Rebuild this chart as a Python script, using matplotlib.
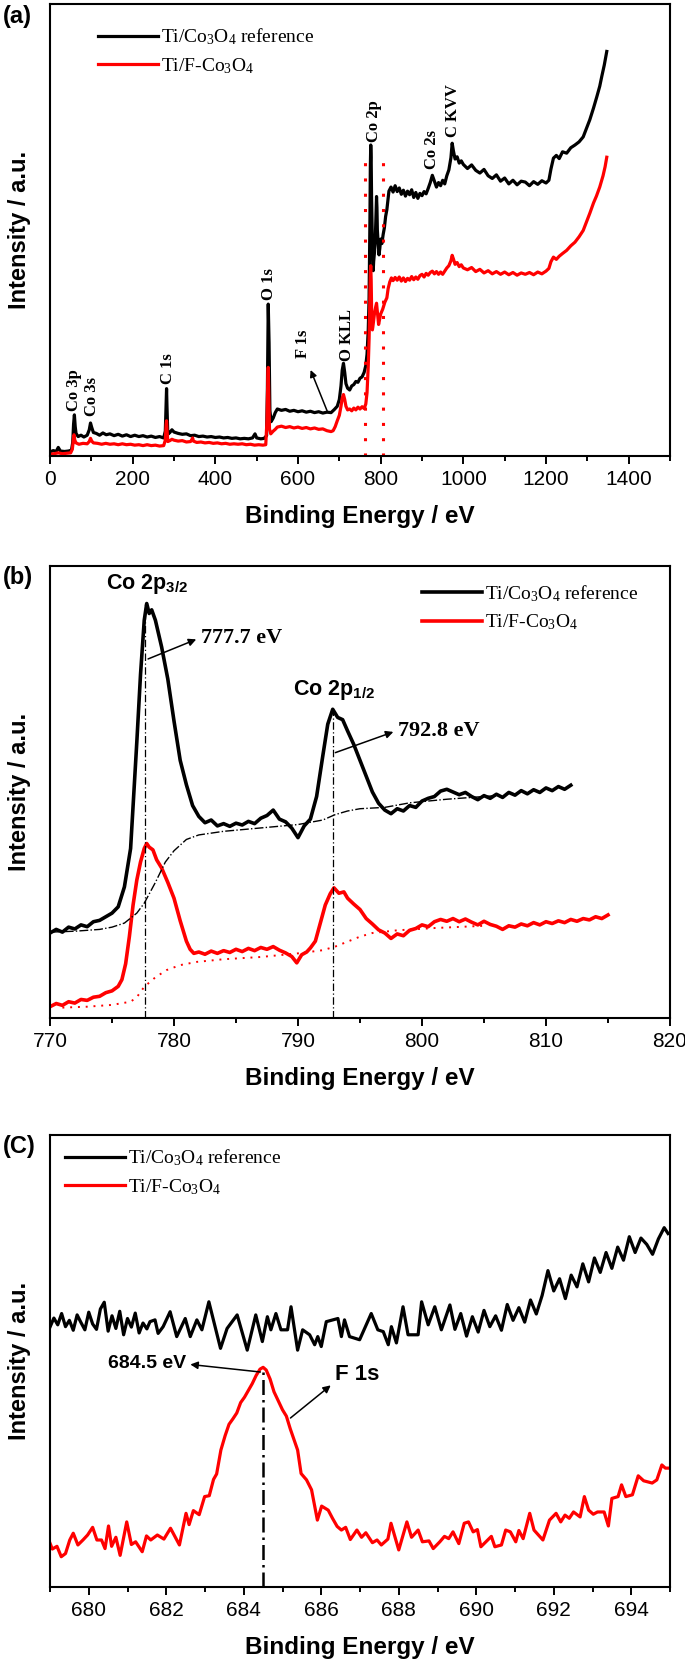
import matplotlib
matplotlib.use('Agg')
import matplotlib.pyplot as plt
from matplotlib.ticker import MultipleLocator

plt.rcParams['font.family'] = ['Liberation Sans', 'DejaVu Sans']

# ---------------- (a) survey spectra: (binding energy, intensity %) ----------------
a_ref = [(0, 0.9), (8, 1.2), (15, 1.0), (20, 1.9), (25, 1.1), (35, 1.0), (45, 1.1), (52, 1.3),
         (55, 3.0), (57, 7.0), (59, 9.1), (61, 6.5), (63, 5.0), (68, 4.3), (75, 4.6), (82, 4.2),
         (90, 4.6), (95, 5.8), (98, 7.3), (101, 6.3), (105, 5.2), (112, 5.0), (120, 4.6), (128, 5.1),
         (136, 4.7), (145, 4.9), (155, 4.5), (165, 4.8), (175, 4.4), (185, 4.7), (195, 4.3), (205, 4.6),
         (215, 4.3), (225, 4.5), (235, 4.2), (245, 4.4), (255, 4.1), (265, 4.3), (275, 4.0), (279, 5.5),
         (281, 12.0), (282, 14.9), (283, 11.0), (285, 4.8), (290, 5.2), (295, 5.8), (300, 5.3),
         (310, 5.0), (320, 4.8), (330, 4.9), (340, 4.5), (350, 4.6), (360, 4.3), (370, 4.4), (380, 4.2),
         (390, 4.3), (400, 4.1), (410, 4.2), (420, 4.0), (430, 4.1), (440, 3.9), (450, 4.0), (460, 3.8),
         (470, 3.9), (480, 3.8), (490, 4.0), (496, 4.9), (500, 4.0), (510, 3.8), (518, 3.9), (524, 4.5),
         (526, 15.0), (528, 33.6), (530, 25.0), (532, 10.0), (535, 7.6), (540, 8.4), (545, 9.6),
         (550, 10.4), (560, 10.1), (570, 10.3), (580, 9.9), (590, 10.1), (600, 9.8), (610, 10.0),
         (620, 9.7), (630, 9.9), (640, 9.6), (650, 9.8), (660, 9.5), (670, 9.7), (680, 9.6), (688, 10.3),
         (695, 11.0), (700, 12.5), (704, 15.5), (707, 19.0), (710, 20.5), (713, 18.5), (716, 16.0),
         (720, 15.0), (725, 14.6), (730, 15.5), (735, 15.8), (740, 16.5), (745, 16.3), (750, 17.2),
         (755, 17.5), (760, 18.5), (764, 20.0), (767, 22.5), (770, 28.0), (772, 35.0), (774, 52.0),
         (775, 64.0), (776, 68.8), (777, 66.0), (778, 57.0), (779, 52.0), (780, 46.0), (781, 42.0),
         (782, 41.0), (783, 43.0), (785, 45.0), (787, 48.0), (789, 54.0), (790, 57.4), (791, 55.0),
         (792, 50.0), (794, 47.0), (796, 44.5), (798, 46.0), (800, 48.0), (803, 47.0), (806, 49.0),
         (809, 50.5), (812, 53.0), (815, 54.5), (818, 57.0), (820, 58.6), (825, 59.5), (830, 58.4),
         (835, 59.8), (840, 58.5), (845, 59.3), (850, 57.9), (855, 58.8), (860, 57.5), (865, 58.6),
         (870, 57.8), (875, 58.9), (880, 57.2), (885, 58.3), (890, 57.0), (895, 58.1), (900, 57.6),
         (905, 58.5), (910, 58.0), (915, 59.2), (920, 60.5), (925, 62.1), (930, 60.8), (935, 59.5),
         (940, 60.5), (945, 59.8), (950, 61.0), (955, 60.2), (960, 62.0), (965, 63.3), (970, 66.0),
         (973, 69.2), (976, 67.5), (980, 65.7), (985, 66.2), (990, 64.8), (995, 65.3), (1000, 64.5),
         (1010, 63.6), (1020, 64.4), (1030, 63.2), (1040, 62.6), (1050, 63.4), (1060, 62.0),
         (1070, 61.4), (1080, 62.2), (1090, 60.8), (1100, 61.5), (1110, 60.2), (1120, 61.0),
         (1130, 60.0), (1140, 60.8), (1150, 60.6), (1160, 59.8), (1170, 60.7), (1180, 60.1),
         (1190, 60.9), (1200, 60.4), (1207, 61.0), (1212, 63.5), (1218, 65.9), (1225, 66.5),
         (1232, 65.8), (1240, 67.3), (1250, 67.0), (1260, 68.2), (1270, 68.8), (1280, 69.5),
         (1290, 70.6), (1298, 72.5), (1306, 74.4), (1315, 77.0), (1323, 79.5), (1330, 81.8),
         (1335, 84.0), (1341, 86.5), (1347, 89.5)]

a_fco = [(0, 0.4), (10, 0.5), (20, 0.7), (30, 0.5), (40, 0.6), (50, 0.7), (54, 1.5), (56, 3.2),
         (58, 4.7), (60, 3.5), (63, 2.9), (70, 2.6), (80, 2.8), (90, 2.7), (95, 3.2), (98, 3.9),
         (101, 3.3), (105, 2.9), (115, 2.8), (125, 2.6), (135, 2.8), (145, 2.6), (155, 2.7), (165, 2.5),
         (175, 2.7), (185, 2.5), (195, 2.6), (205, 2.4), (215, 2.5), (225, 2.3), (235, 2.5), (245, 2.3),
         (255, 2.4), (265, 2.2), (275, 2.3), (279, 3.5), (281, 7.0), (282, 7.8), (283, 6.0), (285, 3.2),
         (290, 3.4), (295, 3.7), (300, 3.5), (310, 3.3), (320, 3.4), (330, 3.1), (340, 3.2), (343, 3.6),
         (345, 4.0), (347, 3.3), (355, 3.0), (365, 3.1), (375, 2.9), (385, 3.0), (395, 2.8), (405, 2.9),
         (415, 2.7), (425, 2.8), (435, 2.6), (445, 2.7), (455, 2.6), (465, 2.7), (475, 2.5), (485, 2.6),
         (495, 2.4), (505, 2.5), (515, 2.4), (522, 2.5), (525, 8.0), (527, 17.0), (528, 19.6),
         (529, 15.0), (531, 6.0), (534, 4.9), (540, 5.5), (545, 5.9), (550, 6.4), (560, 6.6), (570, 6.3),
         (580, 6.5), (590, 6.2), (600, 6.4), (610, 6.1), (620, 6.3), (630, 6.0), (640, 6.2), (650, 5.9),
         (660, 6.0), (670, 5.6), (680, 5.4), (685, 5.6), (690, 6.5), (695, 7.8), (700, 9.0), (704, 11.0),
         (707, 12.8), (710, 13.6), (713, 12.5), (716, 11.0), (720, 10.2), (725, 10.4), (730, 10.0),
         (735, 10.6), (740, 10.2), (745, 10.8), (750, 10.4), (755, 10.9), (760, 10.5), (764, 11.5),
         (767, 14.0), (770, 20.0), (772, 26.0), (774, 36.0), (775, 40.5), (776, 42.1), (777, 39.0),
         (778, 33.0), (779, 29.5), (780, 27.9), (781, 28.5), (783, 30.0), (785, 31.5), (788, 33.0),
         (790, 33.8), (792, 32.0), (794, 30.0), (795, 29.1), (797, 30.0), (800, 31.4), (805, 32.5),
         (810, 34.0), (815, 35.0), (818, 37.0), (822, 38.5), (826, 39.4), (830, 38.8), (835, 39.5),
         (840, 38.9), (845, 39.6), (850, 38.7), (855, 39.4), (860, 38.6), (865, 39.3), (870, 38.9),
         (875, 39.7), (880, 39.0), (885, 39.6), (890, 39.1), (895, 39.9), (900, 40.2), (905, 39.6),
         (910, 40.4), (915, 40.0), (920, 40.6), (925, 40.9), (930, 40.3), (935, 40.8), (940, 40.2),
         (945, 40.7), (950, 40.2), (955, 40.9), (960, 41.6), (965, 42.1), (970, 43.2), (973, 44.4),
         (976, 43.6), (980, 42.4), (985, 42.8), (990, 41.9), (995, 42.3), (1000, 41.6), (1010, 41.2),
         (1020, 41.7), (1030, 40.8), (1040, 41.3), (1050, 40.5), (1060, 41.0), (1070, 40.3),
         (1080, 40.8), (1090, 40.2), (1100, 40.7), (1110, 40.1), (1120, 40.6), (1130, 40.0),
         (1140, 40.5), (1150, 40.2), (1160, 40.6), (1170, 40.1), (1180, 40.7), (1190, 40.3),
         (1200, 40.9), (1207, 41.5), (1212, 43.0), (1218, 44.0), (1225, 43.5), (1232, 44.2),
         (1240, 44.8), (1250, 45.5), (1260, 46.5), (1270, 47.3), (1280, 48.5), (1290, 49.9),
         (1298, 51.8), (1306, 53.7), (1315, 56.0), (1322, 57.5), (1330, 59.5), (1338, 62.0),
         (1343, 64.0), (1347, 66.1)]

# peak labels in (a): text, energy, height of text foot
a_labels = [('Co 3p', 58, 10.0), ('Co 3s', 101, 8.8), ('C 1s', 285, 16.0), ('O 1s', 531, 34.5),
            ('F 1s', 613, 21.6), ('O KLL', 718, 21.0), ('Co 2p', 784, 69.5), ('Co 2s', 925, 63.5),
            ('C KVV', 976, 70.5)]
a_box = (762, 806, 67.0)  # dotted marker around Co 2p

# ---------------- (b) Co 2p region ----------------
b_ref = [(770.0, 18.8), (770.5, 19.6), (771.0, 19.0), (771.5, 20.1), (772.0, 19.7), (772.5, 20.6),
         (773.0, 20.2), (773.5, 21.3), (774.0, 21.6), (774.5, 22.4), (775.0, 23.2), (775.5, 24.6),
         (776.0, 29.0), (776.5, 37.5), (777.0, 61.0), (777.3, 76.0), (777.6, 88.0), (777.8, 91.7),
         (778.0, 89.5), (778.2, 90.3), (778.5, 88.0), (779.0, 82.1), (779.5, 75.0), (780.0, 65.7),
         (780.5, 57.0), (781.0, 51.6), (781.5, 47.0), (782.0, 44.6), (782.5, 43.2), (783.0, 43.8),
         (783.5, 42.5), (784.0, 43.0), (784.5, 42.4), (785.0, 43.1), (785.5, 42.7), (786.0, 43.5),
         (786.5, 43.0), (787.0, 44.2), (787.5, 44.8), (788.0, 46.0), (788.5, 44.0), (789.0, 43.4),
         (789.5, 42.0), (790.0, 39.9), (790.5, 42.5), (791.0, 44.0), (791.5, 49.0), (792.0, 58.0),
         (792.4, 65.0), (792.8, 68.3), (793.2, 66.5), (793.6, 66.0), (794.0, 63.5), (794.5, 60.5),
         (795.0, 57.0), (795.5, 53.5), (796.0, 50.0), (796.5, 47.5), (797.0, 46.0), (797.5, 45.2),
         (798.0, 46.3), (798.5, 45.8), (799.0, 47.0), (799.5, 46.6), (800.0, 48.0), (800.5, 48.6),
         (801.0, 49.0), (801.5, 50.2), (802.0, 50.6), (802.5, 50.0), (803.0, 49.4), (803.5, 49.9),
         (804.0, 49.0), (804.5, 48.3), (805.0, 49.2), (805.5, 48.6), (806.0, 49.5), (806.5, 48.8),
         (807.0, 49.9), (807.5, 49.3), (808.0, 50.3), (808.5, 49.6), (809.0, 50.5), (809.5, 49.9),
         (810.0, 50.9), (810.5, 50.3), (811.0, 51.2), (811.5, 50.6), (812.0, 51.5)]

b_fco = [(770.0, 2.5), (770.5, 3.2), (771.0, 2.8), (771.5, 3.6), (772.0, 3.3), (772.5, 4.1),
         (773.0, 3.9), (773.5, 4.6), (774.0, 4.8), (774.5, 5.6), (775.0, 6.0), (775.5, 7.0),
         (775.8, 8.5), (776.1, 12.0), (776.4, 18.0), (776.7, 25.0), (777.0, 30.5), (777.3, 34.5),
         (777.6, 37.5), (777.8, 38.6), (778.0, 37.8), (778.3, 37.2), (778.6, 35.0), (779.0, 33.2),
         (779.5, 30.0), (780.0, 26.5), (780.5, 21.5), (781.0, 17.0), (781.3, 15.2), (781.6, 14.3),
         (782.0, 14.6), (782.5, 14.1), (783.0, 14.8), (783.5, 14.3), (784.0, 14.9), (784.5, 14.5),
         (785.0, 15.2), (785.5, 14.7), (786.0, 15.4), (786.5, 14.9), (787.0, 15.6), (787.5, 15.2),
         (788.0, 15.8), (788.5, 15.0), (789.0, 14.4), (789.5, 13.6), (789.9, 12.2), (790.3, 14.0),
         (790.7, 14.6), (791.0, 15.5), (791.4, 17.0), (791.8, 21.0), (792.2, 25.0), (792.6, 27.5),
         (792.9, 28.8), (793.3, 27.6), (793.7, 27.9), (794.0, 26.5), (794.5, 25.2), (795.0, 24.0),
         (795.5, 22.0), (796.0, 20.8), (796.5, 19.5), (797.0, 18.8), (797.5, 17.6), (798.0, 18.6),
         (798.5, 18.2), (799.0, 19.4), (799.5, 19.8), (800.0, 20.6), (800.5, 20.2), (801.0, 21.3),
         (801.5, 21.8), (802.0, 21.4), (802.5, 22.0), (803.0, 21.3), (803.5, 21.9), (804.0, 21.2),
         (804.5, 20.6), (805.0, 21.4), (805.5, 20.7), (806.0, 20.3), (806.5, 19.6), (807.0, 20.4),
         (807.5, 20.1), (808.0, 20.8), (808.5, 20.4), (809.0, 21.1), (809.5, 20.6), (810.0, 21.3),
         (810.5, 20.9), (811.0, 21.5), (811.5, 21.1), (812.0, 21.8), (812.5, 21.4), (813.0, 22.0),
         (813.5, 21.7), (814.0, 22.4), (814.5, 22.0), (815.0, 22.8)]

b_ref_bg = [(770, 19.0), (772, 19.2), (774, 19.6), (775, 20.1), (776, 21.0), (777, 23.2),
            (777.6, 25.4), (778.5, 30.0), (779.3, 34.5), (780, 37.0), (781, 39.5), (782, 40.5),
            (784, 41.3), (786, 41.8), (788, 42.3), (790, 42.8), (792, 43.8), (793, 45.0),
            (794, 45.8), (795, 46.3), (797, 46.6), (799, 47.6), (802, 48.4), (806, 49.2)]

b_fco_bg = [(771, 2.3), (773, 2.5), (775, 2.9), (776.5, 3.6), (777.0, 4.6), (777.6, 6.9),
            (778.5, 9.0), (779.4, 10.6), (780.5, 11.7), (781.8, 12.4), (784, 13.0), (787, 13.5),
            (790, 14.3), (792, 15.0), (793, 15.8), (794, 16.9), (795, 18.0), (796, 18.8),
            (798, 19.4), (801, 19.9), (805, 20.4)]

b_peaks = [(777.7, 91.7, '777.7 eV', 79.2, 782.0, 84.0), (792.8, 68.3, '792.8 eV', 58.5, 797.9, 63.5)]

# ---------------- (c) F 1s region ----------------
c_ref = [(679.0, 57.5), (679.1, 59.5), (679.2, 58.0), (679.3, 60.5), (679.4, 57.6), (679.5, 59.0),
         (679.6, 56.8), (679.7, 60.2), (679.8, 58.5), (679.9, 56.9), (680.0, 60.8), (680.1, 58.2),
         (680.2, 57.0), (680.3, 61.5), (680.4, 63.0), (680.5, 56.6), (680.6, 60.0), (680.7, 57.2),
         (680.8, 61.0), (680.9, 55.8), (681.0, 59.4), (681.1, 57.5), (681.2, 60.6), (681.3, 56.2),
         (681.4, 58.4), (681.5, 57.1), (681.58, 58.7), (681.71, 59.1), (681.79, 56.1), (681.92, 57.6),
         (682.10, 60.9), (682.27, 55.4), (682.49, 59.4), (682.62, 55.4), (682.79, 59.1), (682.92, 56.9),
         (683.10, 63.1), (683.40, 52.8), (683.57, 57.2), (683.83, 60.2), (684.09, 52.4), (684.31, 60.2),
         (684.48, 54.3), (684.61, 59.8), (684.70, 56.9), (684.83, 60.5), (684.96, 56.9), (685.13, 56.9),
         (685.22, 62.0), (685.39, 52.4), (685.52, 56.9), (685.70, 55.8), (685.83, 53.6), (685.91, 55.4),
         (686.00, 53.2), (686.13, 58.7), (686.30, 59.1), (686.43, 59.4), (686.52, 55.4), (686.60, 59.1),
         (686.73, 55.4), (686.99, 54.7), (687.29, 60.5), (687.46, 56.9), (687.60, 56.5), (687.73, 53.6),
         (687.81, 57.6), (687.94, 54.0), (688.11, 62.0), (688.24, 55.8), (688.50, 55.8), (688.59, 63.1),
         (688.76, 58.0), (688.93, 62.0), (689.10, 56.9), (689.32, 62.4), (689.45, 57.0), (689.6, 60.5),
         (689.75, 55.5), (689.9, 59.8), (690.05, 56.4), (690.2, 61.2), (690.35, 57.6), (690.5, 60.0),
         (690.65, 56.8), (690.8, 62.5), (690.95, 59.0), (691.1, 61.8), (691.25, 58.6), (691.4, 63.5),
         (691.55, 60.4), (691.7, 64.5), (691.85, 70.0), (692.0, 65.5), (692.15, 68.2), (692.3, 63.8),
         (692.45, 69.0), (692.6, 66.4), (692.75, 71.5), (692.9, 67.5), (693.05, 72.8), (693.2, 69.6),
         (693.35, 74.0), (693.5, 70.5), (693.65, 75.2), (693.8, 72.3), (693.95, 77.5), (694.1, 74.0),
         (694.25, 77.2), (694.4, 75.8), (694.55, 73.6), (694.7, 77.0), (694.85, 79.5), (694.95, 78.2)]

c_fco = [(679.0, 9.7), (679.06, 8.4), (679.18, 9.0), (679.29, 6.7), (679.40, 7.4), (679.51, 10.4),
         (679.60, 11.9), (679.72, 9.3), (679.85, 10.4), (679.97, 11.5), (680.10, 13.2), (680.21, 10.4),
         (680.33, 10.4), (680.42, 8.5), (680.51, 13.5), (680.59, 9.0), (680.70, 11.0), (680.81, 7.0),
         (680.98, 14.4), (681.10, 9.4), (681.21, 10.0), (681.38, 7.8), (681.49, 11.3), (681.60, 10.4),
         (681.77, 11.5), (681.94, 10.6), (682.11, 13.0), (682.34, 9.3), (682.51, 16.3), (682.59, 13.8),
         (682.70, 16.9), (682.85, 16.0), (682.99, 20.0), (683.11, 20.2), (683.22, 23.8), (683.30, 25.0),
         (683.41, 30.3), (683.52, 33.5), (683.62, 36.0), (683.72, 37.2), (683.82, 38.5), (683.92, 40.8),
         (684.02, 42.0), (684.12, 43.5), (684.22, 45.0), (684.32, 46.8), (684.42, 48.2), (684.50, 48.6),
         (684.58, 48.0), (684.68, 46.0), (684.78, 43.2), (684.90, 41.0), (685.00, 39.2), (685.10, 37.8),
         (685.20, 35.0), (685.30, 32.5), (685.39, 30.3), (685.48, 25.1), (685.62, 23.7), (685.75, 21.5),
         (685.90, 14.8), (686.01, 17.9), (686.18, 17.0), (686.29, 15.2), (686.41, 13.4), (686.52, 12.6),
         (686.63, 13.2), (686.75, 10.5), (686.92, 12.6), (687.04, 11.0), (687.15, 12.0), (687.32, 9.8),
         (687.44, 10.4), (687.55, 9.3), (687.72, 10.6), (687.80, 14.1), (688.00, 8.2), (688.21, 14.4),
         (688.33, 11.0), (688.50, 12.6), (688.61, 10.0), (688.78, 10.2), (688.89, 8.5), (689.06, 10.0),
         (689.18, 11.2), (689.29, 10.7), (689.40, 12.2), (689.55, 9.6), (689.69, 14.1), (689.80, 14.4),
         (689.92, 12.2), (690.03, 12.7), (690.12, 8.9), (690.25, 10.0), (690.39, 11.2), (690.48, 8.9),
         (690.65, 9.3), (690.76, 12.6), (690.88, 12.2), (691.02, 10.0), (691.10, 12.5), (691.21, 10.7),
         (691.38, 16.3), (691.49, 12.6), (691.72, 10.4), (691.89, 14.8), (692.06, 16.3), (692.18, 14.4),
         (692.29, 15.9), (692.40, 15.2), (692.51, 16.6), (692.68, 15.5), (692.79, 20.0), (692.90, 17.0),
         (693.02, 16.1), (693.13, 16.6), (693.30, 16.6), (693.41, 13.5), (693.50, 19.6), (693.66, 20.0),
         (693.75, 22.6), (693.86, 20.0), (694.03, 20.4), (694.18, 24.6), (694.32, 23.5), (694.54, 23.0),
         (694.66, 23.7), (694.79, 27.0), (694.88, 26.3), (694.97, 26.3)]

c_peak = (684.5, 48.6)

ref_label = 'Ti/Co$\\mathregular{_3}$O$\\mathregular{_4}$ reference'
fco_label = 'Ti/F-Co$\\mathregular{_3}$O$\\mathregular{_4}$'
serif = ['Liberation Serif', 'DejaVu Serif']
narrow = ['Liberation Sans Narrow', 'Liberation Sans', 'DejaVu Sans']


def xy(pts):
    return [p[0] for p in pts], [p[1] for p in pts]


def style(ax, xlim, major, minor):
    ax.set_xlim(*xlim)
    ax.set_ylim(0, 100)
    ax.xaxis.set_major_locator(MultipleLocator(major))
    ax.xaxis.set_minor_locator(MultipleLocator(minor))
    ax.tick_params(axis='x', which='major', direction='out', length=6, width=1.4, labelsize=15, pad=4)
    ax.tick_params(axis='x', which='minor', direction='out', length=3.5, width=1.4)
    ax.tick_params(axis='y', which='both', left=False, labelleft=False)
    for lab in ax.get_xticklabels():
        lab.set_family(narrow)
    for s in ax.spines.values():
        s.set_linewidth(1.5)
    ax.set_xlabel('Binding Energy / eV', fontsize=17.5, fontweight='bold')
    ax.xaxis.set_label_coords(0.5, -0.108)
    ax.set_ylabel('Intensity / a.u.', fontsize=17, fontweight='bold')
    ax.yaxis.set_label_coords(-0.03, 0.5)


def add_legend(ax, x, y):
    ax.legend(loc='upper left', bbox_to_anchor=(x, y), frameon=False, prop={'family': serif, 'size': 14},
              handlelength=3.1, handletextpad=0.15, borderpad=0, borderaxespad=0, labelspacing=0.45)


fig = plt.figure(figsize=(6.85, 16.63), dpi=100)
L, W, H = 50 / 685, 620 / 685, 452 / 1663
ax_a = fig.add_axes([L, 1 - 456 / 1663, W, H])
ax_b = fig.add_axes([L, 1 - 1018 / 1663, W, H])
ax_c = fig.add_axes([L, 1 - 1587 / 1663, W, H])

# ---- (a)
ax_a.plot(*xy(a_ref), color='black', lw=2.3, label=ref_label)
ax_a.plot(*xy(a_fco), color='red', lw=2.3, label=fco_label)
for x0 in a_box[:2]:
    ax_a.plot([x0, x0], [0, a_box[2]], color='red', lw=2.2, ls=(0, (1, 4)))
for txt, e, y0 in a_labels:
    ax_a.text(e, y0, txt, rotation=90, ha='center', va='bottom', family=serif, fontweight='bold', fontsize=12)
ax_a.annotate('', xy=(628, 19.6), xytext=(673, 9.4),
              arrowprops=dict(arrowstyle='-|>', color='black', lw=1.1, mutation_scale=10))
style(ax_a, (0, 1500), 200, 100)
add_legend(ax_a, 0.077, 0.95)

# ---- (b)
ax_b.plot(*xy(b_ref), color='black', lw=2.6, label=ref_label)
ax_b.plot(*xy(b_fco), color='red', lw=2.6, label=fco_label)
ax_b.plot(*xy(b_ref_bg), color='black', lw=1.0, ls='-.')
ax_b.plot(*xy(b_fco_bg), color='red', lw=1.4, ls=(0, (1, 3)))
for e, top, txt, ya, xt, yt in b_peaks:
    ax_b.plot([e, e], [0, top], color='black', lw=0.9, ls=(0, (6, 2, 1, 2)))
    ax_b.annotate('', xy=(xt, yt), xytext=(e, ya),
                  arrowprops=dict(arrowstyle='-|>', color='black', lw=1.1, mutation_scale=11))
    ax_b.text(xt + 0.15, yt, txt, ha='left', va='center', family=serif, fontweight='bold', fontsize=16)
ax_b.text(777.8, 96.0, 'Co 2p$\\mathregular{_{3/2}}$', ha='center', va='center', fontsize=15.5, fontweight='bold')
ax_b.text(789.6, 72.6, 'Co 2p$\\mathregular{_{1/2}}$', ha='left', va='center', fontsize=15.5, fontweight='bold')
style(ax_b, (770, 820), 10, 5)
add_legend(ax_b, 0.6, 0.962)

# ---- (c)
ax_c.plot(*xy(c_ref), color='black', lw=2.3, label=ref_label)
ax_c.plot(*xy(c_fco), color='red', lw=2.3, label=fco_label)
ax_c.plot([c_peak[0], c_peak[0]], [0, c_peak[1]], color='black', lw=1.8, ls=(0, (6, 2, 1, 2)))
ax_c.annotate('', xy=(682.55, 49.3), xytext=(684.5, 47.5),
              arrowprops=dict(arrowstyle='-|>', color='black', lw=1.1, mutation_scale=11))
ax_c.text(682.5, 49.4, '684.5 eV', ha='right', va='center', fontsize=14, fontweight='bold')
ax_c.annotate('', xy=(686.3, 45.0), xytext=(685.15, 37.0),
              arrowprops=dict(arrowstyle='-|>', color='black', lw=1.1, mutation_scale=11))
ax_c.text(686.35, 47.0, 'F 1s', ha='left', va='center', fontsize=16, fontweight='bold')
style(ax_c, (679, 695), 2, 1)
add_legend(ax_c, 0.024, 0.972)

for lab, top in (('(a)', 5), ('(b)', 566), ('(C)', 1135)):
    fig.text(3 / 685, 1 - top / 1663, lab, ha='left', va='top', fontsize=17, fontweight='bold')

fig.savefig('out.png', dpi=100)
